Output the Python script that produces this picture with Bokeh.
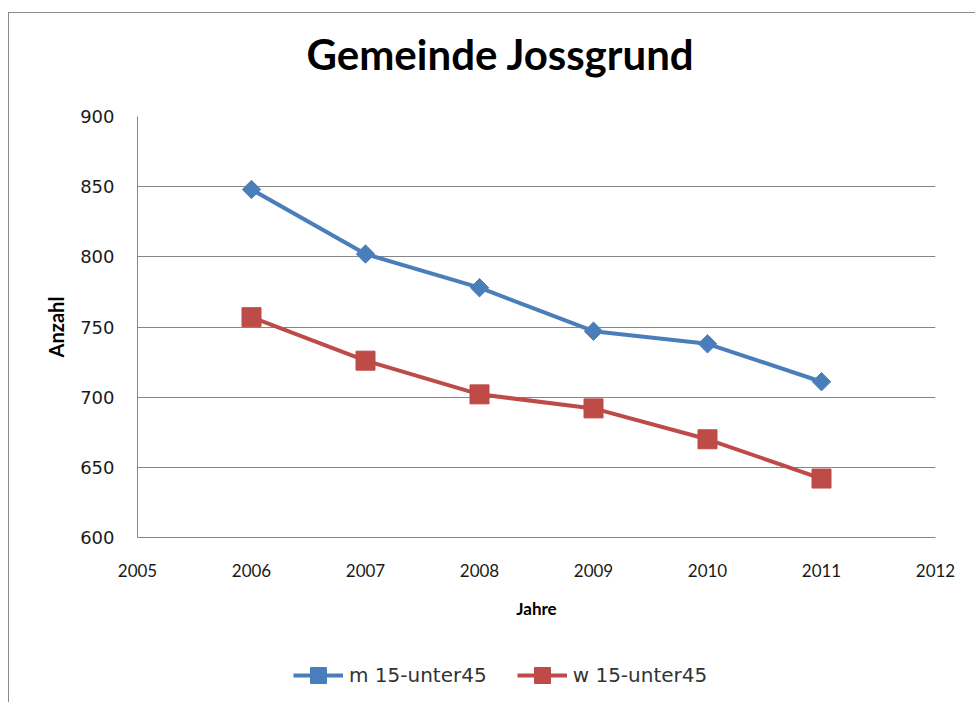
from bokeh.plotting import figure
from bokeh.layouts import column
from bokeh.models import Range1d, FixedTicker, Legend, LegendItem, Title
from bokeh.embed import file_html
from bokeh.resources import INLINE

# ---- data ----
years = [2006, 2007, 2008, 2009, 2010, 2011]
m_values = [848, 802, 778, 747, 738, 711]
w_values = [757, 726, 702, 692, 670, 642]
x_ticks = [2005, 2006, 2007, 2008, 2009, 2010, 2011, 2012]
y_ticks = [600, 650, 700, 750, 800, 850, 900]
series_names = ["m 15-unter45", "w 15-unter45"]
title_text = "Gemeinde Jossgrund"
x_label = "Jahre"
y_label = "Anzahl"

BLUE = "#4A7EBB"
RED = "#BE4B48"
GRID = "#868686"

p = figure(
    title=None,
    frame_width=798, frame_height=421,
    min_border_left=128, min_border_top=103,
    min_border_right=40, min_border_bottom=90,
    x_range=Range1d(x_ticks[0], x_ticks[-1]),
    y_range=Range1d(y_ticks[0], y_ticks[-1]),
    output_backend="svg", toolbar_location=None,
    background_fill_color="white", border_fill_color="white",
)
p.outline_line_color = None

# spacer between frame and title, then the title further out
p.add_layout(Title(text=" ", text_font_size="2px", standoff=32), "above")
p.add_layout(Title(text=title_text, align="left", offset=169, standoff=4,
                   text_font="Lato", text_font_style="bold", text_font_size="42px",
                   text_color="black"), "above")

# axes
p.xaxis.ticker = FixedTicker(ticks=x_ticks)
p.yaxis.ticker = FixedTicker(ticks=y_ticks)
for ax in (p.xaxis, p.yaxis):
    ax.axis_line_color = GRID
    ax.axis_line_width = 1
    ax.major_tick_line_color = None
    ax.minor_tick_line_color = None
    ax.major_label_text_color = "#1a1a1a"
    ax.axis_label_text_color = "black"
    ax.axis_label_text_font_style = "bold"

p.xaxis.major_label_text_font = "Lato"
p.xaxis.major_label_text_font_size = "17px"
p.xaxis.major_label_standoff = 20
p.xaxis.axis_label = x_label
p.xaxis.axis_label_text_font = "Lato"
p.xaxis.axis_label_text_font_size = "17px"
p.xaxis.axis_label_standoff = 18

p.yaxis.major_label_text_font = "DejaVu Sans"
p.yaxis.major_label_text_font_size = "18px"
p.yaxis.major_label_standoff = 17
p.yaxis.axis_label = y_label
p.yaxis.axis_label_text_font = "Lato"
p.yaxis.axis_label_text_font_size = "20px"
p.yaxis.axis_label_standoff = 9

p.xgrid.grid_line_color = None
p.ygrid.ticker = FixedTicker(ticks=y_ticks)
p.ygrid.grid_line_color = GRID
p.ygrid.grid_line_width = 1

# series
def draw(fig):
    lm = fig.line(years, m_values, line_color=BLUE, line_width=4)
    sm = fig.scatter(years, m_values, marker="square", angle=0.785398, size=13,
                     fill_color=BLUE, line_color=BLUE)
    lw = fig.line(years, w_values, line_color=RED, line_width=4)
    sw = fig.scatter(years, w_values, marker="square", size=19,
                     fill_color=RED, line_color=RED)
    return lm, sm, lw, sw

draw(p)

# legend strip below the chart (its own series lie outside its empty view)
leg = figure(
    width=966, height=75,
    min_border_left=0, min_border_right=0, min_border_top=0, min_border_bottom=0,
    x_range=Range1d(0, 1), y_range=Range1d(0, 1),
    x_axis_type=None, y_axis_type=None,
    output_backend="svg", toolbar_location=None,
    background_fill_color="white", border_fill_color="white",
)
leg.outline_line_color = None
leg.xgrid.visible = False
leg.ygrid.visible = False
lm, sm, lw, sw = draw(leg)

legend = Legend(
    items=[LegendItem(label=series_names[0], renderers=[lm, sm]),
           LegendItem(label=series_names[1], renderers=[lw, sw])],
    orientation="horizontal", location=(156, 7),
    glyph_width=50, glyph_height=40, label_standoff=6, spacing=30,
    padding=0, margin=0, border_line_color=None, background_fill_alpha=0,
    label_text_font="DejaVu Sans", label_text_font_size="20px",
    label_text_color="#333333",
)
leg.add_layout(legend)

layout = column(p, leg, spacing=0)
layout.styles = {"margin-left": "8px", "margin-top": "12px",
                 "border-left": "1px solid #8a8a8a", "border-top": "1px solid #8a8a8a"}

open("out.html", "w").write(file_html(layout, INLINE))
